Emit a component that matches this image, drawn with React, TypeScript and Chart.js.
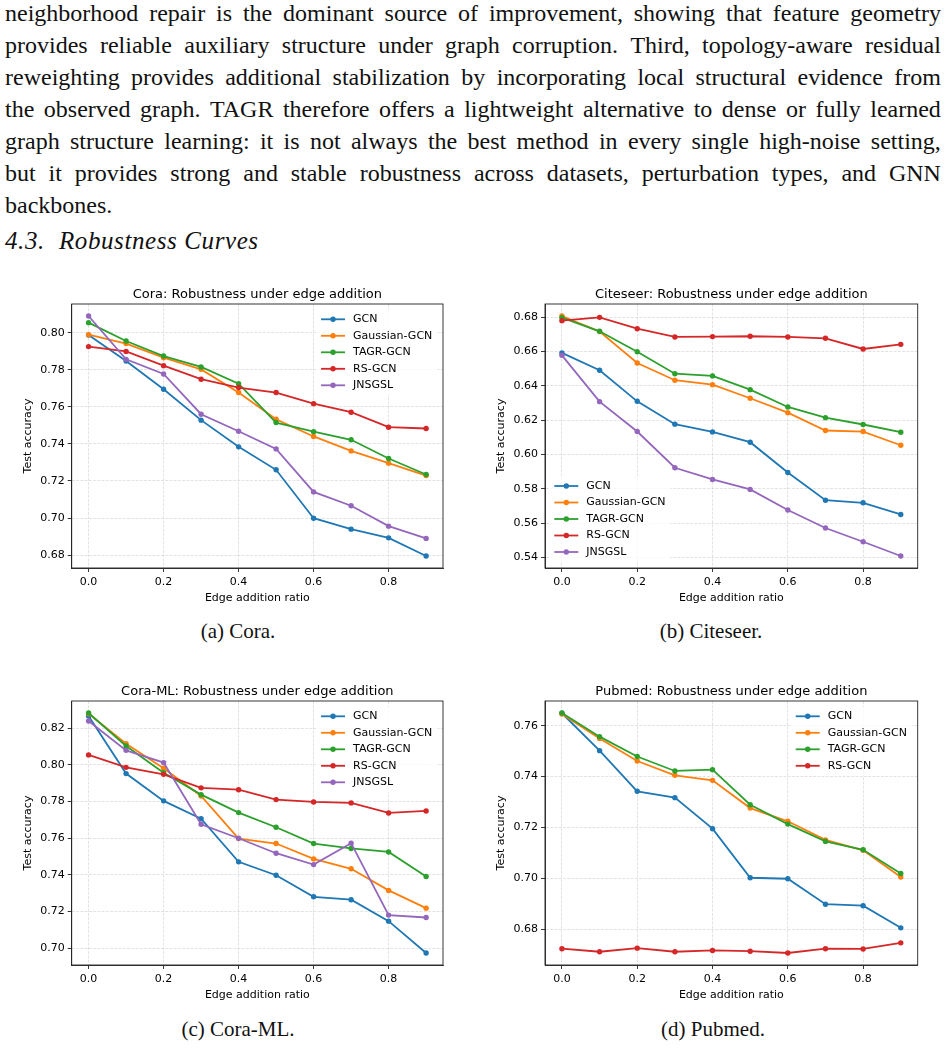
import { useEffect, useRef } from "react";
import { Chart, registerables } from "chart.js";

Chart.register(...registerables);

// ---- shared axis data ----
const ratios = [0, 0.1, 0.2, 0.3, 0.4, 0.5, 0.6, 0.7, 0.8, 0.9];
const xTickValues = [0, 0.2, 0.4, 0.6, 0.8];
const methodNames = ["GCN", "Gaussian-GCN", "TAGR-GCN", "RS-GCN", "JNSGSL"];
const methodColors = ["#1f77b4", "#ff7f0e", "#2ca02c", "#d62728", "#9467bd"];

// ---- Cora ----
const coraGCN = [0.7987, 0.7847, 0.7695, 0.7528, 0.7384, 0.726, 0.6999, 0.694, 0.6893, 0.6795];
const coraGaussian = [0.7989, 0.7941, 0.7865, 0.7802, 0.7677, 0.7533, 0.744, 0.7362, 0.7296, 0.7229];
const coraTAGR = [0.8054, 0.7955, 0.7874, 0.7815, 0.7725, 0.7515, 0.7466, 0.7422, 0.7321, 0.7235];
const coraRS = [0.7925, 0.7899, 0.7822, 0.7749, 0.7704, 0.7677, 0.7617, 0.7571, 0.749, 0.7483];
const coraJNSGSL = [0.809, 0.7856, 0.7777, 0.756, 0.7468, 0.7373, 0.7141, 0.7066, 0.6956, 0.689];
const coraYTicks = [0.68, 0.7, 0.72, 0.74, 0.76, 0.78, 0.8];

// ---- Citeseer ----
const citeGCN = [0.6591, 0.649, 0.6309, 0.6176, 0.6131, 0.6071, 0.5894, 0.5733, 0.5718, 0.565];
const citeGaussian = [0.6806, 0.6715, 0.6532, 0.6432, 0.6406, 0.6327, 0.6243, 0.6139, 0.6133, 0.6053];
const citeTAGR = [0.6796, 0.6717, 0.6598, 0.647, 0.6457, 0.6377, 0.6276, 0.6214, 0.6174, 0.6129];
const citeRS = [0.6779, 0.6798, 0.6732, 0.6684, 0.6686, 0.6688, 0.6684, 0.6676, 0.6614, 0.6641];
const citeJNSGSL = [0.6577, 0.6307, 0.6133, 0.5922, 0.5854, 0.5796, 0.5676, 0.5571, 0.5491, 0.5408];
const citeYTicks = [0.54, 0.56, 0.58, 0.6, 0.62, 0.64, 0.66, 0.68];

// ---- Cora-ML ----
const coramlGCN = [0.8267, 0.7953, 0.7804, 0.7707, 0.7471, 0.7398, 0.728, 0.7264, 0.7147, 0.6973];
const coramlGaussian = [0.828, 0.8116, 0.7982, 0.7831, 0.7598, 0.7571, 0.7487, 0.7433, 0.7315, 0.7218];
const coramlTAGR = [0.8284, 0.8104, 0.7958, 0.7838, 0.774, 0.766, 0.7571, 0.7544, 0.7525, 0.7391];
const coramlRS = [0.8055, 0.7987, 0.7949, 0.7875, 0.7865, 0.7811, 0.7798, 0.7793, 0.7738, 0.7749];
const coramlJNSGSL = [0.824, 0.808, 0.8013, 0.7676, 0.76, 0.7518, 0.7456, 0.7573, 0.718, 0.7167];
const coramlYTicks = [0.7, 0.72, 0.74, 0.76, 0.78, 0.8, 0.82];

// ---- Pubmed ----
const pubGCN = [0.7649, 0.7502, 0.7342, 0.7317, 0.7195, 0.7002, 0.6998, 0.6898, 0.6892, 0.6805];
const pubGaussian = [0.7646, 0.755, 0.7461, 0.7405, 0.7385, 0.7276, 0.7224, 0.7151, 0.711, 0.7005];
const pubTAGR = [0.765, 0.7557, 0.7479, 0.7422, 0.7427, 0.7289, 0.7213, 0.7145, 0.7112, 0.7019];
const pubRS = [0.6723, 0.6711, 0.6725, 0.6711, 0.6716, 0.6713, 0.6706, 0.6723, 0.6722, 0.6746];
const pubYTicks = [0.68, 0.7, 0.72, 0.74, 0.76];

// ---- surrounding document text ----
const paragraphLines = [
  "neighborhood repair is the dominant source of improvement, showing that feature geometry",
  "provides reliable auxiliary structure under graph corruption. Third, topology-aware residual",
  "reweighting provides additional stabilization by incorporating local structural evidence from",
  "the observed graph. TAGR therefore offers a lightweight alternative to dense or fully learned",
  "graph structure learning: it is not always the best method in every single high-noise setting,",
  "but it provides strong and stable robustness across datasets, perturbation types, and GNN",
  "backbones.",
];
const sectionNumber = "4.3.";
const sectionTitle = "Robustness Curves";

const SANS = "'DejaVu Sans', sans-serif";
const SERIF = "'Liberation Serif', 'Times New Roman', serif";
const GRID_COLOR = "rgba(176,176,176,0.45)";
const SPINE_COLOR = "#222";
const FS = 11;

const CW = 460;
const CH = 330;

// Full rectangular frame around the plotting area (all four spines).
const framePlugin = {
  id: "axesFrame",
  afterDraw(chart: any) {
    const { ctx, chartArea: a } = chart;
    ctx.save();
    ctx.strokeStyle = SPINE_COLOR;
    ctx.lineWidth = 0.9;
    ctx.strokeRect(a.left, a.top, a.right - a.left, a.bottom - a.top);
    ctx.restore();
  },
};

// Compact legend drawn inside the plotting area.
const innerLegendPlugin = {
  id: "innerLegend",
  afterDraw(chart: any, _args: any, opts: any) {
    const { ctx, chartArea: a } = chart;
    const sets = chart.data.datasets;
    const n = sets.length;
    const rowH = 16.5;
    ctx.save();
    ctx.font = `${FS}px ${SANS}`;
    const textW = Math.max(...sets.map((d: any) => ctx.measureText(d.label).width));
    let sx: number;
    let y0: number;
    if (opts.corner === "ll") {
      sx = a.left + 9.3;
      y0 = a.bottom - 16 - (n - 1) * rowH;
    } else {
      sx = a.right - 10.7 - textW - 32;
      y0 = a.top + 15.3;
    }
    ctx.fillStyle = "rgba(255,255,255,0.8)";
    ctx.fillRect(sx - 5, y0 - 10, 32 + textW + 10, (n - 1) * rowH + 20);
    sets.forEach((d: any, i: number) => {
      const y = y0 + i * rowH;
      ctx.strokeStyle = d.borderColor;
      ctx.lineWidth = 1.8;
      ctx.beginPath();
      ctx.moveTo(sx, y);
      ctx.lineTo(sx + 24, y);
      ctx.stroke();
      ctx.fillStyle = d.borderColor;
      ctx.beginPath();
      ctx.arc(sx + 12, y, 2.7, 0, Math.PI * 2);
      ctx.fill();
      ctx.fillStyle = "#000";
      ctx.textBaseline = "middle";
      ctx.textAlign = "left";
      ctx.fillText(d.label, sx + 32, y);
    });
    ctx.restore();
  },
};

type PanelProps = {
  left: number;
  top: number;
  title: string;
  series: number[][];
  yTicks: number[];
  corner: "ur" | "ll";
  padLeft: number;
  axisWidth: number;
  padRight: number;
};

function RobustnessPanel(p: PanelProps) {
  const ref = useRef<HTMLCanvasElement>(null);
  useEffect(() => {
    const canvas = ref.current;
    if (!canvas) return;
    const all = p.series.flat();
    const lo = Math.min(...all);
    const hi = Math.max(...all);
    const margin = (hi - lo) * 0.05;
    const tickFont = { family: SANS, size: FS };
    const chart = new Chart(canvas, {
      type: "line",
      data: {
        datasets: p.series.map((vals, i) => ({
          label: methodNames[i],
          data: ratios.map((x, j) => ({ x, y: vals[j] })),
          borderColor: methodColors[i],
          backgroundColor: methodColors[i],
          borderWidth: 1.8,
          pointRadius: 2.7,
          pointBorderWidth: 0,
          pointHoverRadius: 2.7,
          tension: 0,
          order: p.series.length - i,
        })),
      },
      options: {
        animation: false,
        responsive: false,
        devicePixelRatio: 1,
        events: [],
        layout: { padding: { left: p.padLeft, right: p.padRight, top: 6.7, bottom: 5.4 } },
        plugins: {
          legend: { display: false },
          tooltip: { enabled: false },
          title: {
            display: true,
            fullSize: false,
            text: p.title,
            color: "#000",
            font: { family: SANS, size: 13, weight: "normal", lineHeight: 1.2 },
            padding: { top: 0, bottom: 1.7 },
          },
          innerLegend: { corner: p.corner },
        } as any,
        scales: {
          x: {
            type: "linear",
            min: -0.045,
            max: 0.945,
            afterBuildTicks: (s: any) => {
              s.ticks = xTickValues.map((v) => ({ value: v }));
            },
            afterFit: (s: any) => {
              s.height = 36.6;
            },
            ticks: {
              callback: (v: any) => Number(v).toFixed(1),
              color: "#000",
              font: tickFont,
              padding: 3.5,
              maxRotation: 0,
              autoSkip: false,
            },
            grid: {
              color: GRID_COLOR,
              lineWidth: 0.8,
              tickLength: 4,
              tickColor: SPINE_COLOR,
              tickWidth: 0.9,
            },
            border: { display: true, color: SPINE_COLOR, width: 0.9, dash: [2.96, 1.28] },
            title: {
              display: true,
              text: "Edge addition ratio",
              color: "#000",
              font: { family: SANS, size: FS, lineHeight: 1.2 },
              padding: { top: 0, bottom: 0 },
            },
          },
          y: {
            type: "linear",
            min: lo - margin,
            max: hi + margin,
            afterBuildTicks: (s: any) => {
              s.ticks = p.yTicks.map((v) => ({ value: v }));
            },
            afterFit: (s: any) => {
              s.width = p.axisWidth;
            },
            ticks: {
              callback: (v: any) => Number(v).toFixed(2),
              color: "#000",
              font: tickFont,
              padding: 3,
              autoSkip: false,
            },
            grid: {
              color: GRID_COLOR,
              lineWidth: 0.8,
              tickLength: 4,
              tickColor: SPINE_COLOR,
              tickWidth: 0.9,
            },
            border: { display: true, color: SPINE_COLOR, width: 0.9, dash: [2.96, 1.28] },
            title: {
              display: true,
              text: "Test accuracy",
              color: "#000",
              font: { family: SANS, size: FS, lineHeight: 1.2 },
              padding: { top: 0, bottom: 0 },
            },
          },
        },
      } as any,
      plugins: [framePlugin, innerLegendPlugin],
    });
    return () => chart.destroy();
  }, []);
  return (
    <canvas
      ref={ref}
      width={CW}
      height={CH}
      style={{ position: "absolute", left: p.left, top: p.top, width: CW, height: CH }}
    />
  );
}

function Caption({ text, cx, top }: { text: string; cx: number; top: number }) {
  return (
    <div
      style={{
        position: "absolute",
        left: cx - 150,
        top,
        width: 300,
        textAlign: "center",
        font: `21px ${SERIF}`,
        lineHeight: "32px",
        color: "#111",
        whiteSpace: "nowrap",
      }}
    >
      {text}
    </div>
  );
}

export default function App() {
  const last = paragraphLines.length - 1;
  return (
    <div
      style={{
        position: "absolute",
        left: 0,
        top: 0,
        width: 947,
        height: 1048,
        background: "#fff",
        overflow: "hidden",
      }}
    >
      {paragraphLines.map((line, i) => (
        <div
          key={i}
          style={{
            position: "absolute",
            left: 5,
            top: 0 + 32 * i,
            width: 936,
            height: 32,
            lineHeight: "32px",
            display: "flex",
            justifyContent: i < last ? "space-between" : "flex-start",
            whiteSpace: "nowrap",
            font: `24px ${SERIF}`,
            color: "#111",
          }}
        >
          {line.split(" ").map((w, j) => (
            <span key={j}>{w}</span>
          ))}
        </div>
      ))}
      <div
        style={{
          position: "absolute",
          left: 5,
          top: 227,
          height: 32,
          lineHeight: "32px",
          font: `italic 25px ${SERIF}`,
          letterSpacing: "0.6px",
          color: "#111",
          whiteSpace: "nowrap",
        }}
      >
        <span>{sectionNumber}</span>
        <span style={{ marginLeft: 14 }}>{sectionTitle}</span>
      </div>

      <RobustnessPanel
        left={10}
        top={280}
        title="Cora: Robustness under edge addition"
        series={[coraGCN, coraGaussian, coraTAGR, coraRS, coraJNSGSL]}
        yTicks={coraYTicks}
        corner="ur"
        padLeft={11.4}
        axisWidth={50.3}
        padRight={27}
      />
      <RobustnessPanel
        left={484}
        top={280}
        title="Citeseer: Robustness under edge addition"
        series={[citeGCN, citeGaussian, citeTAGR, citeRS, citeJNSGSL]}
        yTicks={citeYTicks}
        corner="ll"
        padLeft={10.4}
        axisWidth={50.6}
        padRight={26.3}
      />
      <RobustnessPanel
        left={10}
        top={677}
        title="Cora-ML: Robustness under edge addition"
        series={[coramlGCN, coramlGaussian, coramlTAGR, coramlRS, coramlJNSGSL]}
        yTicks={coramlYTicks}
        corner="ur"
        padLeft={11.4}
        axisWidth={50.3}
        padRight={27}
      />
      <RobustnessPanel
        left={484}
        top={677}
        title="Pubmed: Robustness under edge addition"
        series={[pubGCN, pubGaussian, pubTAGR, pubRS]}
        yTicks={pubYTicks}
        corner="ur"
        padLeft={10.4}
        axisWidth={50.6}
        padRight={26.3}
      />

      <Caption text="(a) Cora." cx={238} top={615} />
      <Caption text="(b) Citeseer." cx={711} top={615} />
      <Caption text="(c) Cora-ML." cx={238} top={1013} />
      <Caption text="(d) Pubmed." cx={713} top={1013} />
    </div>
  );
}
